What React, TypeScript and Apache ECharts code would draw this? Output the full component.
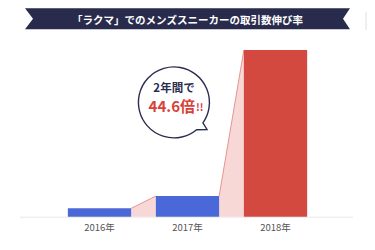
import React, { useEffect, useRef } from "react";
import * as echarts from "echarts";

const categories = ["2016年", "2017年", "2018年"];
const values = [4.75, 11.7, 94.3];
const barColors = ["#4a68d8", "#4a68d8", "#d3483f"];
const titleText = "「ラクマ」でのメンズスニーカーの取引数伸び率";
const bubbleLine1 = "2年間で";
const bubbleValue = "44.6倍";

const FONT = "'Noto Sans CJK JP', 'Noto Sans', sans-serif";

let registered = false;
function registerShapes() {
  if (registered) return;
  registered = true;
  echarts.graphic.registerShape(
    "bubble",
    echarts.graphic.extendPath(
      "M202.9 122.9 A35.5 35.5 0 1 0 196.6 129.7 L207 129.5 Z",
      {}
    )
  );
}

export default function App() {
  const ref = useRef<HTMLDivElement>(null);
  useEffect(() => {
    if (!ref.current) return;
    registerShapes();
    const chart = echarts.init(ref.current, null, { renderer: "svg" });
    const connectorData = values.slice(0, -1).map((v, i) => [i, v, values[i + 1]]);
    chart.setOption({
      animation: false,
      backgroundColor: "#ffffff",
      grid: { left: 55.5, right: 55.5, top: 40, bottom: 33.3 },
      xAxis: {
        type: "category",
        data: categories,
        axisLine: { show: false },
        axisTick: { show: false },
        axisLabel: { color: "#555", fontSize: 9.5, margin: 6, fontFamily: FONT },
      },
      yAxis: {
        type: "value",
        min: 0,
        max: 100,
        show: false,
        splitLine: { show: false },
      },
      series: [
        {
          type: "custom",
          data: connectorData,
          z: 1,
          renderItem: (params: any, api: any) => {
            const i = api.value(0);
            const bw = 63.3;
            const a = api.coord([i, api.value(1)]);
            const b = api.coord([i + 1, api.value(2)]);
            const base = api.coord([i, 0])[1];
            const x1 = a[0] + bw / 2;
            const x2 = b[0] - bw / 2;
            return {
              type: "group",
              children: [
                {
                  type: "polygon",
                  shape: { points: [[x1, a[1]], [x2, b[1]], [x2, base], [x1, base]] },
                  style: { fill: "#f8d8d6" },
                },
                {
                  type: "line",
                  shape: { x1, y1: a[1], x2, y2: b[1] },
                  style: { stroke: "#df7f79", lineWidth: 0.8 },
                },
              ],
            };
          },
        },
        {
          type: "bar",
          data: values.map((v, i) => ({ value: v, itemStyle: { color: barColors[i] } })),
          barWidth: 63.3,
          z: 2,
        },
      ],
      graphic: [
        {
          type: "line",
          shape: { x1: 20, y1: 217.2, x2: 353, y2: 217.2 },
          style: { stroke: "#e8e8e8", lineWidth: 1 },
          z: 0,
        },
        {
          type: "polygon",
          shape: {
            points: [
              [25, 8.3],
              [350, 8.3],
              [343, 18.8],
              [350, 29.3],
              [25, 29.3],
              [33, 18.8],
            ],
          },
          style: { fill: "#292b4d" },
        },
        {
          type: "text",
          x: 187.5,
          y: 19,
          style: {
            text: titleText,
            fill: "#ffffff",
            fontSize: 10.5,
            fontWeight: "bold",
            fontFamily: FONT,
            align: "center",
            verticalAlign: "middle",
          },
        },
        {
          type: "rect",
          shape: { x: 365, y: 12, width: 10, height: 18, r: 1 },
          style: { fill: "#f2eeee" },
        },
        {
          type: "rect",
          shape: { x: 367.5, y: 17, width: 4.5, height: 6 },
          style: { fill: "#d8323a" },
        },
        {
          type: "bubble",
          x: 0,
          y: 0,
          z: 10,
          style: { fill: "#ffffff", stroke: "#2b2d4f", lineWidth: 1.4 },
        },
        {
          type: "text",
          x: 174,
          y: 86.5,
          z: 11,
          style: {
            text: bubbleLine1,
            fill: "#2b2d4f",
            fontSize: 11.5,
            fontWeight: "bold",
            fontFamily: FONT,
            align: "center",
            verticalAlign: "middle",
          },
        },
        {
          type: "text",
          x: 176,
          y: 105,
          z: 11,
          style: {
            text: "{a|" + bubbleValue + "}{b|!!}",
            align: "center",
            verticalAlign: "middle",
            rich: {
              a: {
                fill: "#d8413a",
                fontSize: 15,
                fontWeight: "bold",
                fontFamily: FONT,
              },
              b: {
                fill: "#d8413a",
                fontSize: 10,
                fontWeight: "bold",
                fontFamily: FONT,
                padding: [3, 0, 0, 1],
              },
            },
          },
        },
      ],
    });
    return () => chart.dispose();
  }, []);
  return <div ref={ref} style={{ width: 375, height: 250, margin: -8 }} />;
}
